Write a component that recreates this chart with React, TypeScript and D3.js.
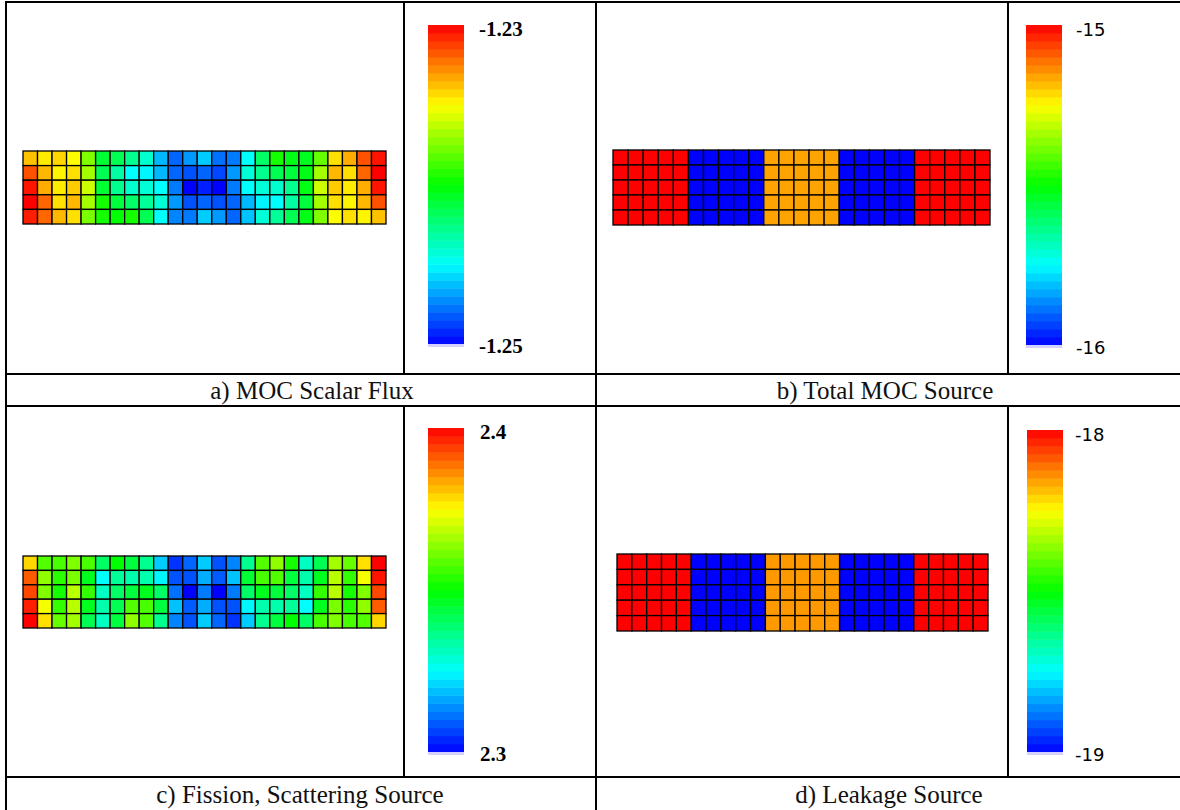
import * as d3 from 'd3';

// MOC scalar flux (5 rows x 25 cells)
const scalarFlux: number[][] = [
  [-1.2338, -1.2346, -1.2342, -1.2350, -1.2375, -1.2410, -1.2416, -1.2428, -1.2440, -1.2464, -1.2480, -1.2470, -1.2460, -1.2478, -1.2476, -1.2450, -1.2420, -1.2396, -1.2404, -1.2406, -1.2380, -1.2344, -1.2334, -1.2316, -1.2304],
  [-1.2316, -1.2336, -1.2348, -1.2344, -1.2368, -1.2416, -1.2432, -1.2450, -1.2452, -1.2464, -1.2480, -1.2484, -1.2480, -1.2486, -1.2470, -1.2442, -1.2428, -1.2416, -1.2412, -1.2404, -1.2368, -1.2336, -1.2344, -1.2320, -1.2300],
  [-1.2304, -1.2334, -1.2346, -1.2340, -1.2360, -1.2410, -1.2428, -1.2440, -1.2442, -1.2450, -1.2476, -1.2500, -1.2494, -1.2500, -1.2476, -1.2450, -1.2442, -1.2440, -1.2428, -1.2404, -1.2360, -1.2340, -1.2346, -1.2334, -1.2304],
  [-1.2300, -1.2320, -1.2344, -1.2336, -1.2368, -1.2396, -1.2412, -1.2420, -1.2430, -1.2442, -1.2470, -1.2484, -1.2480, -1.2484, -1.2480, -1.2464, -1.2452, -1.2450, -1.2432, -1.2412, -1.2368, -1.2344, -1.2348, -1.2336, -1.2316],
  [-1.2306, -1.2320, -1.2336, -1.2344, -1.2376, -1.2396, -1.2400, -1.2396, -1.2416, -1.2450, -1.2474, -1.2476, -1.2460, -1.2470, -1.2480, -1.2462, -1.2442, -1.2430, -1.2416, -1.2404, -1.2375, -1.2350, -1.2344, -1.2348, -1.2338],
];

// total MOC source
const totalSource: number[][] = [
  [-15, -15, -15, -15, -15, -16, -16, -16, -16, -16, -15.16, -15.16, -15.16, -15.16, -15.16, -16, -16, -16, -16, -16, -15, -15, -15, -15, -15],
  [-15, -15, -15, -15, -15, -16, -16, -16, -16, -16, -15.16, -15.16, -15.16, -15.16, -15.16, -16, -16, -16, -16, -16, -15, -15, -15, -15, -15],
  [-15, -15, -15, -15, -15, -16, -16, -16, -16, -16, -15.16, -15.16, -15.16, -15.16, -15.16, -16, -16, -16, -16, -16, -15, -15, -15, -15, -15],
  [-15, -15, -15, -15, -15, -16, -16, -16, -16, -16, -15.16, -15.16, -15.16, -15.16, -15.16, -16, -16, -16, -16, -16, -15, -15, -15, -15, -15],
  [-15, -15, -15, -15, -15, -16, -16, -16, -16, -16, -15.16, -15.16, -15.16, -15.16, -15.16, -16, -16, -16, -16, -16, -15, -15, -15, -15, -15],
];

// fission + scattering source
const fissionSource: number[][] = [
  [2.379, 2.358, 2.357, 2.3625, 2.357, 2.340, 2.350, 2.344, 2.336, 2.320, 2.305, 2.310, 2.320, 2.308, 2.313, 2.336, 2.358, 2.364, 2.352, 2.331, 2.342, 2.366, 2.360, 2.378, 2.400],
  [2.391, 2.364, 2.354, 2.362, 2.347, 2.325, 2.335, 2.333, 2.333, 2.324, 2.308, 2.308, 2.317, 2.309, 2.319, 2.345, 2.357, 2.358, 2.344, 2.333, 2.347, 2.368, 2.355, 2.374, 2.398],
  [2.393, 2.3625, 2.352, 2.368, 2.355, 2.331, 2.340, 2.344, 2.347, 2.340, 2.311, 2.300, 2.312, 2.300, 2.312, 2.340, 2.347, 2.344, 2.340, 2.331, 2.355, 2.368, 2.352, 2.3625, 2.393],
  [2.397, 2.374, 2.355, 2.368, 2.347, 2.333, 2.342, 2.358, 2.357, 2.344, 2.319, 2.309, 2.317, 2.308, 2.308, 2.324, 2.333, 2.333, 2.335, 2.325, 2.347, 2.362, 2.354, 2.364, 2.391],
  [2.400, 2.378, 2.360, 2.366, 2.342, 2.331, 2.344, 2.364, 2.358, 2.336, 2.313, 2.308, 2.320, 2.310, 2.305, 2.320, 2.336, 2.344, 2.350, 2.340, 2.357, 2.3625, 2.357, 2.358, 2.379],
];

// leakage source
const leakageSource: number[][] = [
  [-18, -18, -18, -18, -18, -19, -19, -19, -19, -19, -18.15, -18.15, -18.15, -18.15, -18.15, -19, -19, -19, -19, -19, -18, -18, -18, -18, -18],
  [-18, -18, -18, -18, -18, -19, -19, -19, -19, -19, -18.15, -18.15, -18.15, -18.15, -18.15, -19, -19, -19, -19, -19, -18, -18, -18, -18, -18],
  [-18, -18, -18, -18, -18, -19, -19, -19, -19, -19, -18.15, -18.15, -18.15, -18.15, -18.15, -19, -19, -19, -19, -19, -18, -18, -18, -18, -18],
  [-18, -18, -18, -18, -18, -19, -19, -19, -19, -19, -18.15, -18.15, -18.15, -18.15, -18.15, -19, -19, -19, -19, -19, -18, -18, -18, -18, -18],
  [-18, -18, -18, -18, -18, -19, -19, -19, -19, -19, -18.15, -18.15, -18.15, -18.15, -18.15, -19, -19, -19, -19, -19, -18, -18, -18, -18, -18],
];

const captions = ['a) MOC Scalar Flux', 'b) Total MOC Source', 'c) Fission, Scattering Source', 'd) Leakage Source'];
const colorbarMin = [-1.25, -16, 2.3, -19];
const colorbarMax = [-1.23, -15, 2.4, -18];
const minLabels = ['-1.25', '-16', '2.3', '-19'];
const maxLabels = ['-1.23', '-15', '2.4', '-18'];
const panelData = [scalarFlux, totalSource, fissionSource, leakageSource];

// layout for each panel (pixels)
const layout = [
  { grid: [23, 151, 386, 224], bar: [428, 25, 464, 344], labelX: 479, capX: 312, capY: 399, labelFont: 'serif' },
  { grid: [613, 150, 990, 225], bar: [1026, 25, 1062, 345], labelX: 1076, capX: 885, capY: 399, labelFont: 'sans' },
  { grid: [23, 556, 386, 628], bar: [428, 428, 464, 752], labelX: 480, capX: 300, capY: 803, labelFont: 'serif' },
  { grid: [617, 554, 988, 631], bar: [1027, 430, 1063, 752], labelX: 1075, capX: 889, capY: 803, labelFont: 'sans' },
];

const rainbow = (t: number) => d3.hsl(240 * (1 - Math.max(0, Math.min(1, t))), 1, 0.5).toString();
const N_BANDS = 40;

function Panel({ idx }: { idx: number }) {
  const data = panelData[idx];
  const L = layout[idx];
  const [gx0, gy0, gx1, gy1] = L.grid;
  const [bx0, by0, bx1, by1] = L.bar;
  const nCols = data[0].length;

  const x = d3.scaleBand<number>().domain(d3.range(nCols)).range([gx0, gx1]);
  const y = d3.scaleBand<number>().domain(d3.range(data.length)).range([gy0, gy1]);
  const color = d3.scaleSequential(rainbow).domain([colorbarMin[idx], colorbarMax[idx]]);
  const barY = d3.scaleLinear().domain([colorbarMin[idx], colorbarMax[idx]]).range([by1, by0]);
  const bands = d3.range(N_BANDS);
  const bandH = (by1 - by0) / N_BANDS;

  const labelStyle = L.labelFont === 'serif'
    ? { fontFamily: '"Liberation Serif", "Times New Roman", serif', fontSize: 21, fontWeight: 700 }
    : { fontFamily: '"DejaVu Sans", Verdana, sans-serif', fontSize: 18, fontWeight: 400 };

  return (
    <g>
      {data.map((row, r) =>
        row.map((v, c) => (
          <rect
            key={`${r}-${c}`}
            x={x(c)}
            y={y(r)}
            width={x.bandwidth()}
            height={y.bandwidth()}
            fill={color(v)}
            stroke="#000"
            strokeWidth={1.3}
          />
        ))
      )}
      {bands.map(i => {
        const t = (i + 0.5) / N_BANDS;
        const v = colorbarMin[idx] + t * (colorbarMax[idx] - colorbarMin[idx]);
        return (
          <rect
            key={`b${i}`}
            x={bx0}
            y={barY(colorbarMin[idx]) - (i + 1) * bandH}
            width={bx1 - bx0}
            height={bandH + 0.5}
            fill={color(v)}
          />
        );
      })}
      <rect x={bx0} y={by1} width={bx1 - bx0} height={3} fill="#d4d0ff" />
      <text x={L.labelX} y={barY(colorbarMax[idx]) + 11} {...labelStyle} fill="#000">
        {maxLabels[idx]}
      </text>
      <text x={L.labelX} y={barY(colorbarMin[idx]) + 9} {...labelStyle} fill="#000">
        {minLabels[idx]}
      </text>
      <text
        x={L.capX}
        y={L.capY}
        textAnchor="middle"
        fontFamily='"Liberation Serif", "Times New Roman", serif'
        fontSize={25}
        fill="#111"
      >
        {captions[idx]}
      </text>
    </g>
  );
}

export default function App() {
  const lineProps = { stroke: '#000', strokeWidth: 2 };
  return (
    <svg
      width={1180}
      height={810}
      style={{ position: 'absolute', left: 0, top: 0, background: '#fff' }}
    >
      {/* table frame */}
      <line x1={6} x2={1180} y1={2} y2={2} {...lineProps} />
      <line x1={6} x2={6} y1={1} y2={810} {...lineProps} />
      <line x1={596} x2={596} y1={1} y2={810} {...lineProps} />
      <line x1={6} x2={1180} y1={374} y2={374} {...lineProps} />
      <line x1={6} x2={1180} y1={406} y2={406} {...lineProps} />
      <line x1={6} x2={1180} y1={777} y2={777} {...lineProps} />
      <line x1={404} x2={404} y1={2} y2={374} {...lineProps} />
      <line x1={404} x2={404} y1={406} y2={777} {...lineProps} />
      <line x1={1008} x2={1008} y1={2} y2={374} {...lineProps} />
      <line x1={1008} x2={1008} y1={406} y2={777} {...lineProps} />
      {[0, 1, 2, 3].map(i => (
        <Panel key={i} idx={i} />
      ))}
    </svg>
  );
}
